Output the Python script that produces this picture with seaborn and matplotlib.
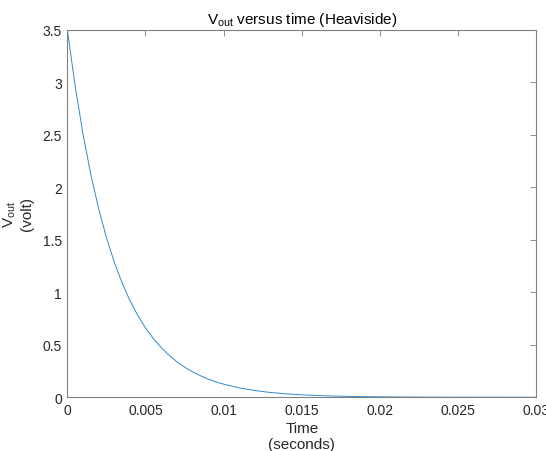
import pandas as pd
import matplotlib
matplotlib.use('Agg')
import matplotlib.pyplot as plt
import seaborn as sns
from matplotlib.ticker import FuncFormatter

# values
time_s = [0.0, 0.0005, 0.001, 0.0015, 0.002, 0.0025, 0.003, 0.0035, 0.004, 0.0045,
          0.005, 0.0055, 0.006, 0.0065, 0.007, 0.0075, 0.008, 0.0085, 0.009, 0.0095,
          0.010, 0.011, 0.012, 0.013, 0.014, 0.015, 0.016, 0.017, 0.018, 0.019,
          0.020, 0.021, 0.022, 0.023, 0.024, 0.025, 0.026, 0.027, 0.028, 0.029, 0.030]
vout = [3.5, 2.963, 2.508, 2.123, 1.797, 1.521, 1.288, 1.090, 0.923, 0.781,
        0.661, 0.560, 0.474, 0.401, 0.339, 0.287, 0.243, 0.206, 0.174, 0.147,
        0.125, 0.0895, 0.0641, 0.0459, 0.0329, 0.0236, 0.0169, 0.0121, 0.0087, 0.0062,
        0.0045, 0.0032, 0.0023, 0.0016, 0.0012, 0.0008, 0.0006, 0.0004, 0.0003, 0.0002, 0.0002]

x_ticks = [0, 0.005, 0.01, 0.015, 0.02, 0.025, 0.03]
y_ticks = [0, 0.5, 1, 1.5, 2, 2.5, 3, 3.5]

df = pd.DataFrame({'Time': time_s, 'Vout': vout})

sns.set_style('white')
plt.rcParams['font.family'] = ['Liberation Sans', 'DejaVu Sans']
plt.rcParams['mathtext.fontset'] = 'custom'
plt.rcParams['mathtext.rm'] = 'Liberation Sans'

fig = plt.figure(figsize=(5.46, 4.52), dpi=100)
ax = fig.add_axes([0.1233, 0.1188, 0.859, 0.8135])

sns.lineplot(data=df, x='Time', y='Vout', ax=ax, color='#2F8AD0', linewidth=0.7)

ax.set_xlim(0, 0.03)
ax.set_ylim(0, 3.5)
ax.set_xticks(x_ticks)
ax.set_yticks(y_ticks)
fmt = FuncFormatter(lambda v, p: '%g' % v)
ax.xaxis.set_major_formatter(fmt)
ax.yaxis.set_major_formatter(fmt)

grey = '#262626'
for s in ax.spines.values():
    s.set_color('#808080')
    s.set_linewidth(0.8)
ax.tick_params(direction='in', length=4, width=0.6, color='#808080',
               top=True, right=True, labelsize=10, labelcolor=grey, pad=4)

ax.set_title('$\\mathregular{V_{out}}$ versus time (Heaviside)', fontsize=11, color='black', pad=5)
ax.set_xlabel('Time\n(seconds)', fontsize=11, color=grey, labelpad=3)
ax.set_ylabel('$\\mathregular{V_{out}}$\n(volt)', fontsize=11, color=grey, labelpad=6)

plt.savefig('out.png', dpi=100)
